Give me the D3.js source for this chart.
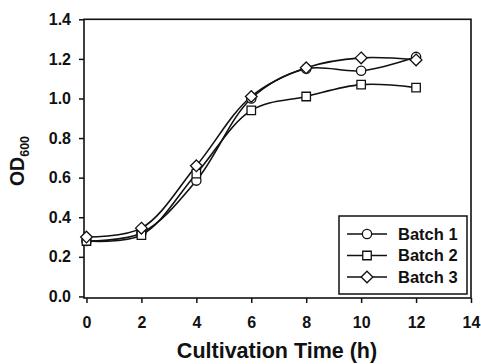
<!DOCTYPE html>
<html>
<head>
<meta charset="utf-8">
<script src="https://cdn.jsdelivr.net/npm/d3@7"></script>
<style>
    body { margin: 0; background: #ffffff; }
    svg text { font-family: Arial, "Liberation Sans", Helvetica, sans-serif; font-weight: bold; fill: #111111; }
</style>
</head>
<body>
<svg id="chart" width="481" height="364"></svg>
<script>
// time points (h)
var hours = [0, 2, 4, 6, 8, 10, 12];
// OD600 readings per batch
var batch1 = [0.28, 0.32, 0.585, 1.0, 1.15, 1.14, 1.21];
var batch2 = [0.28, 0.31, 0.62, 0.94, 1.01, 1.07, 1.055];
var batch3 = [0.30, 0.345, 0.66, 1.01, 1.155, 1.205, 1.195];
var seriesNames = ["Batch 1", "Batch 2", "Batch 3"];
var markerTypes = ["circle", "square", "diamond"];
var xTicks = [0, 2, 4, 6, 8, 10, 12, 14];
var yTicks = [0.0, 0.2, 0.4, 0.6, 0.8, 1.0, 1.2, 1.4];

var series = [batch1, batch2, batch3].map(function(vals, i) {
    return {
        name: seriesNames[i],
        marker: markerTypes[i],
        points: hours.map(function(h, j) { return { x: h, y: vals[j] }; })
    };
});

var svg = d3.select("#chart");

var x = d3.scaleLinear().domain([-0.09, 14]).range([84, 471]);
var y = d3.scaleLinear().domain([-0.008, 1.4]).range([298, 19.3]);

// square turned 45deg, the way SigmaPlot draws its diamonds
var rhombus = {
    draw: function(context, size) {
        var r = Math.sqrt(size / 2);
        context.moveTo(0, -r);
        context.lineTo(r, 0);
        context.lineTo(0, r);
        context.lineTo(-r, 0);
        context.closePath();
    }
};

var symbolFor = {
    circle: d3.symbol().type(d3.symbolCircle).size(68),
    square: d3.symbol().type(d3.symbolSquare).size(72),
    diamond: d3.symbol().type(rhombus).size(68)
};

// frame
svg.append("rect")
    .attr("x", x.range()[0])
    .attr("y", y.range()[1])
    .attr("width", x.range()[1] - x.range()[0])
    .attr("height", y.range()[0] - y.range()[1])
    .style("fill", "none")
    .style("stroke", "#111")
    .style("stroke-width", 1.6);

// y axis
var yAxis = d3.axisLeft(y).tickValues(yTicks).tickSize(5).tickPadding(8)
    .tickFormat(d3.format(".1f"));
var gy = svg.append("g").attr("transform", "translate(84,0)").call(yAxis);
gy.select(".domain").remove();
gy.selectAll("line").style("stroke", "#111").style("stroke-width", 1.5);
gy.selectAll("text").style("font-size", "16px").style("font-family", "Arial, 'Liberation Sans', sans-serif");

// x axis
var xAxis = d3.axisBottom(x).tickValues(xTicks).tickSize(5).tickPadding(14);
var gx = svg.append("g").attr("transform", "translate(0,298)").call(xAxis);
gx.select(".domain").remove();
gx.selectAll("line").style("stroke", "#111").style("stroke-width", 1.5);
gx.selectAll("text").style("font-size", "16px").style("font-family", "Arial, 'Liberation Sans', sans-serif");

// axis titles
svg.append("text")
    .attr("x", 277)
    .attr("y", 358)
    .attr("text-anchor", "middle")
    .style("font-size", "21.5px")
    .text("Cultivation Time (h)");

var ylab = svg.append("text")
    .attr("transform", "translate(24,161) rotate(-90)")
    .attr("text-anchor", "middle")
    .style("font-size", "19.5px");
ylab.append("tspan").text("OD");
ylab.append("tspan").attr("dy", 5).style("font-size", "12.5px").text("600");

// curves
var line = d3.line()
    .x(function(d) { return x(d.x); })
    .y(function(d) { return y(d.y); })
    .curve(d3.curveCatmullRom.alpha(0.5));

var plot = svg.append("g");

series.forEach(function(s) {
    plot.append("path")
        .datum(s.points)
        .attr("d", line)
        .style("fill", "none")
        .style("stroke", "#111")
        .style("stroke-width", 1.6);
});

series.forEach(function(s) {
    plot.selectAll(".m-" + s.marker)
        .data(s.points)
        .enter().append("path")
        .attr("class", "m-" + s.marker)
        .attr("transform", function(d) { return "translate(" + x(d.x) + "," + y(d.y) + ")"; })
        .attr("d", symbolFor[s.marker])
        .style("fill", "#ffffff")
        .style("stroke", "#111")
        .style("stroke-width", 1.3);
});

// legend
var legend = svg.append("g").attr("transform", "translate(339,216)");
legend.append("rect")
    .attr("width", 128)
    .attr("height", 78)
    .style("fill", "#ffffff")
    .style("stroke", "#111")
    .style("stroke-width", 1.5);

var rows = legend.selectAll(".row")
    .data(series)
    .enter().append("g")
    .attr("class", "row")
    .attr("transform", function(d, i) { return "translate(0," + (18 + i * 21.5) + ")"; });

rows.append("line")
    .attr("x1", 8).attr("x2", 48)
    .style("stroke", "#111")
    .style("stroke-width", 1.6);

rows.append("path")
    .attr("transform", "translate(28,0)")
    .attr("d", function(d) { return symbolFor[d.marker](); })
    .style("fill", "#ffffff")
    .style("stroke", "#111")
    .style("stroke-width", 1.3);

rows.append("text")
    .attr("x", 59)
    .attr("dy", "0.36em")
    .style("font-size", "16.5px")
    .text(function(d) { return d.name; });
</script>
</body>
</html>
